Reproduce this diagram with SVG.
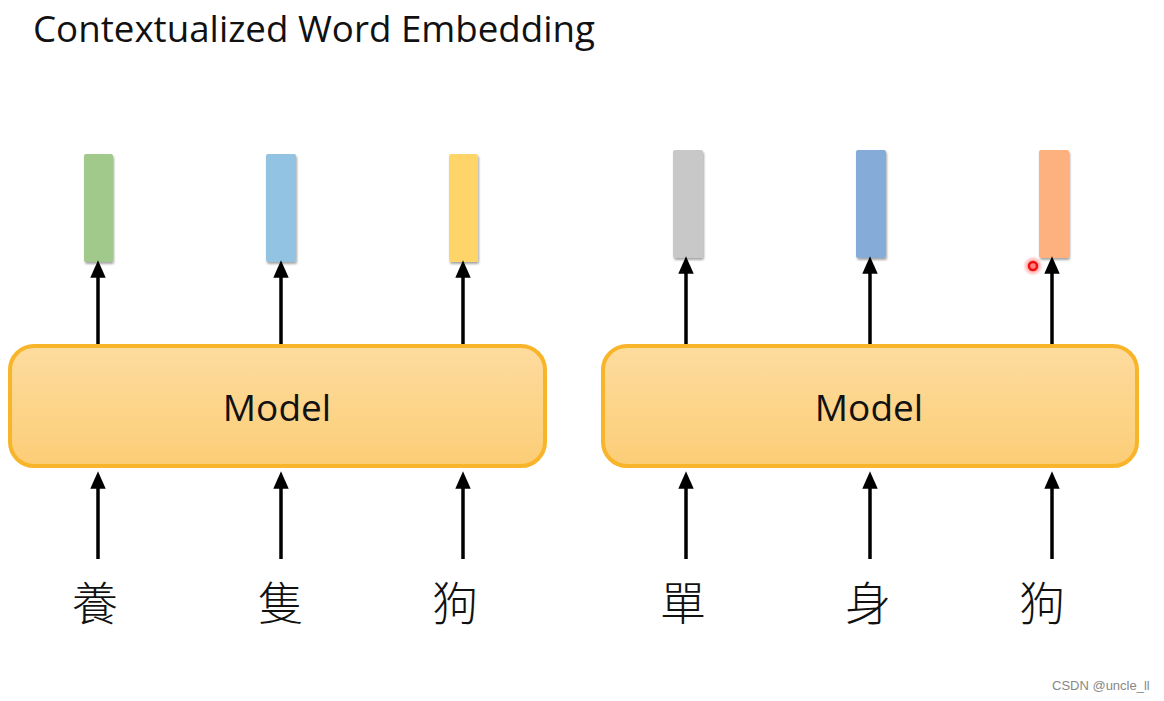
<svg xmlns="http://www.w3.org/2000/svg" width="1164" height="701" viewBox="0 0 1164 701">
<style>
.title{font-family:"Open Sans","Liberation Sans",sans-serif;font-size:36px;fill:#111}
.model{font-family:"Open Sans","Liberation Sans",sans-serif;font-size:37px;fill:#111;text-anchor:middle}
.box{fill:url(#g);stroke:#F8B52A;stroke-width:4}
.vec{filter:url(#sh)}
.cn{font-family:"Noto Sans CJK TC","Noto Sans CJK SC",sans-serif;font-size:46px;font-weight:300;fill:#111;text-anchor:middle}
.conn line{stroke:#000;stroke-width:3.5;marker-end:url(#ah)}
.wm{font-family:"Liberation Sans",Arial,sans-serif;font-size:13px;fill:#888}
</style>
<defs>
<linearGradient id="g" x1="0" y1="0" x2="0" y2="1">
<stop offset="0" stop-color="#FDDC9F"/>
<stop offset="1" stop-color="#FCCD76"/>
</linearGradient>
<filter id="sh" x="-30%" y="-10%" width="160%" height="125%">
<feDropShadow dx="1" dy="2" stdDeviation="1.2" flood-color="#000" flood-opacity="0.35"/>
</filter>
<radialGradient id="rg">
<stop offset="0.3" stop-color="#ff3030" stop-opacity="0.6"/>
<stop offset="1" stop-color="#ff3030" stop-opacity="0"/>
</radialGradient>
<marker id="ah" markerWidth="5" markerHeight="5" refX="2.2" refY="2.2" orient="auto" markerUnits="strokeWidth" viewBox="0 0 5 4.4">
<path d="M0,0 L5,2.2 L0,4.4 z" fill="#000"/>
</marker>
</defs>
<rect width="1164" height="701" fill="#fff"/>
<text class="title" x="33" y="42" textLength="562" lengthAdjust="spacingAndGlyphs">Contextualized Word Embedding</text>

<g id="vectors-left">
<rect class="vec" x="84" y="154" width="29" height="108" rx="2" fill="#A2C98C"/>
<rect class="vec" x="266" y="154" width="30" height="108" rx="2" fill="#93C3E3"/>
<rect class="vec" x="449" y="154" width="29" height="108" rx="2" fill="#FFD56A"/>
</g>
<g id="vectors-right">
<rect class="vec" x="673" y="150" width="30" height="108" rx="2" fill="#C8C8C8"/>
<rect class="vec" x="856" y="150" width="30" height="108" rx="2" fill="#85ABD9"/>
<rect class="vec" x="1039" y="150" width="30" height="108" rx="2" fill="#FDB17E"/>
</g>

<g id="model-left">
<rect class="box" x="10" y="346" width="535" height="120" rx="24"/>
<text class="model" x="277" y="421">Model</text>
</g>
<g id="model-right">
<rect class="box" x="603" y="346" width="534" height="120" rx="24"/>
<text class="model" x="869" y="421">Model</text>
</g>

<g id="words-left">
<text class="cn" x="95" y="620">養</text>
<text class="cn" x="281" y="620">隻</text>
<text class="cn" x="455" y="620">狗</text>
</g>
<g id="words-right">
<text class="cn" x="683" y="620">單</text>
<text class="cn" x="868" y="620">身</text>
<text class="cn" x="1042" y="620">狗</text>
</g>

<g class="conn" id="connectors">
<line x1="98" y1="344" x2="98" y2="270"/>
<line x1="281" y1="344" x2="281" y2="270"/>
<line x1="463" y1="344" x2="463" y2="270"/>
<line x1="686" y1="344" x2="686" y2="266"/>
<line x1="870" y1="344" x2="870" y2="266"/>
<line x1="1052" y1="344" x2="1052" y2="266"/>
<line x1="98" y1="559" x2="98" y2="481"/>
<line x1="281" y1="559" x2="281" y2="481"/>
<line x1="463" y1="559" x2="463" y2="481"/>
<line x1="686" y1="559" x2="686" y2="481"/>
<line x1="870" y1="559" x2="870" y2="481"/>
<line x1="1052" y1="559" x2="1052" y2="481"/>
</g>

<g id="pointer">
<circle cx="1033" cy="266" r="10" fill="url(#rg)"/>
<circle cx="1033" cy="266" r="4" fill="none" stroke="#ee1111" stroke-width="2.5"/>
</g>
<text class="wm" x="1052" y="690">CSDN @uncle_ll</text>
</svg>
